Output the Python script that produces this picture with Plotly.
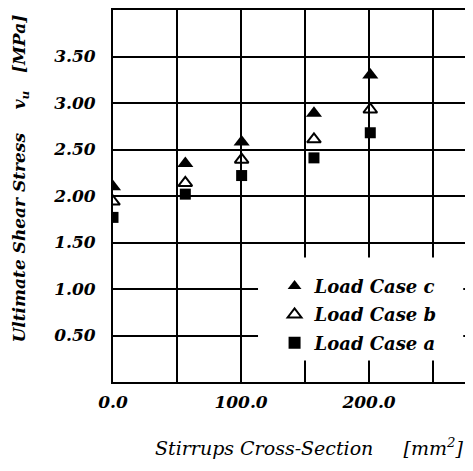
import plotly.graph_objects as go

stirrups = [0.0, 56.5, 100.5, 157.0, 201.0]
case_c = [2.10, 2.35, 2.58, 2.89, 3.30]
case_b = [1.94, 2.14, 2.39, 2.61, 2.93]
case_a = [1.77, 2.02, 2.22, 2.41, 2.68]

x_tickvals = [0, 100, 200]
x_ticktext = ["0.0", "100.0", "200.0"]
y_tickvals = [0.5, 1.0, 1.5, 2.0, 2.5, 3.0, 3.5]
y_ticktext = ["0.50", "1.00", "1.50", "2.00", "2.50", "3.00", "3.50"]

FAM = "DejaVu Serif"
BOLD = dict(family=FAM, color="black", style="italic", weight="bold")
ITAL = dict(family=FAM, color="black", style="italic", weight="normal")

fig = go.Figure()
fig.add_trace(go.Scatter(x=stirrups, y=case_c, mode="markers", name="Load Case c", legendgroup="c",
                         marker=dict(symbol="triangle-up", size=14, color="black")))
fig.add_trace(go.Scatter(x=stirrups, y=case_b, mode="markers", name="Load Case b", legendgroup="b",
                         marker=dict(symbol="triangle-up-open", size=12, color="black",
                                     line=dict(width=2, color="black"))))
fig.add_trace(go.Scatter(x=stirrups, y=case_a, mode="markers", name="Load Case a", legendgroup="a",
                         marker=dict(symbol="square", size=11, color="black")))

# white box behind legend (covers grid lines)
fig.add_shape(type="rect", xref="paper", yref="paper", x0=0.412, x1=0.995, y0=0.058, y1=0.335,
              fillcolor="white", line=dict(width=0), layer="above")

# axis titles as annotations
fig.add_annotation(text="Ultimate Shear Stress&nbsp;&nbsp;&nbsp;&nbsp;v<sub>u</sub>&nbsp;&nbsp;&nbsp;[MPa]",
                   xref="paper", yref="paper", x=-0.263, y=0.548, textangle=-90,
                   xanchor="center", yanchor="middle",
                   showarrow=False, font=dict(size=17, **BOLD))
fig.add_annotation(text="Stirrups Cross-Section&nbsp;&nbsp;&nbsp;&nbsp;&nbsp;[mm<sup>2</sup>]",
                   xref="paper", yref="paper", x=0.557, y=-0.175,
                   xanchor="center", yanchor="middle",
                   showarrow=False, font=dict(size=19, **ITAL))

fig.update_layout(
    width=465, height=463,
    margin=dict(l=105, r=8, t=2, b=89, autoexpand=False),
    paper_bgcolor="white", plot_bgcolor="white",
    font=dict(size=17, **BOLD),
    showlegend=True,
    legend=dict(x=0.459, y=0.307, xanchor="left", yanchor="top",
                bgcolor="rgba(0,0,0,0)", font=dict(size=18, **BOLD),
                tracegroupgap=2, itemsizing="constant"),
)
fig.update_xaxes(range=[0, 275], tickvals=x_tickvals, ticktext=x_ticktext,
                 showgrid=True, gridcolor="black", gridwidth=2,
                 minor=dict(tick0=0, dtick=50, showgrid=True, gridcolor="black", gridwidth=2, ticks=""),
                 showline=True, linecolor="black", linewidth=2, mirror=True,
                 ticks="", ticklabelstandoff=4, zeroline=False, automargin=False,
                 tickfont=dict(size=17, **BOLD))
fig.update_yaxes(range=[0, 4.0], tickvals=y_tickvals, ticktext=y_ticktext,
                 showgrid=True, gridcolor="black", gridwidth=2,
                 showline=True, linecolor="black", linewidth=2, mirror=True,
                 ticks="", ticklabelstandoff=12, zeroline=False, automargin=False,
                 tickfont=dict(size=17, **BOLD))

fig.write_html("out.html")
